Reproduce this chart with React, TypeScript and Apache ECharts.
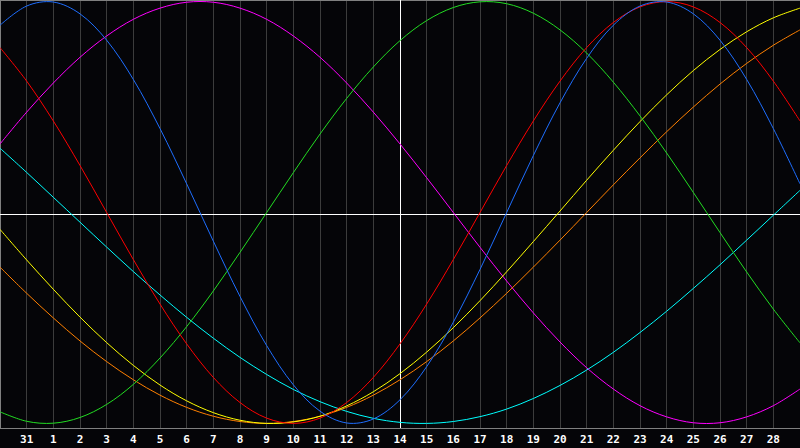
import React, { useEffect, useRef } from "react";
import * as echarts from "echarts";

// day labels along the bottom (index 0 and 30 sit on the plot edges, unlabeled)
const days = ["30", "31", "1", "2", "3", "4", "5", "6", "7", "8", "9", "10", "11", "12", "13", "14",
    "15", "16", "17", "18", "19", "20", "21", "22", "23", "24", "25", "26", "27", "28", "29"];
const today = "14";
const midLine = -0.007;

const blue = [0.888, 0.979, 0.998, 0.942, 0.817, 0.631, 0.398, 0.136, -0.136, -0.398, -0.631, -0.817, -0.942, -0.998, -0.979, -0.888,
    -0.731, -0.520, -0.270, 0.000, 0.270, 0.520, 0.731, 0.888, 0.979, 0.998, 0.942, 0.817, 0.631, 0.398, 0.136];
const red = [0.782, 0.623, 0.434, 0.223, 0, -0.223, -0.434, -0.623, -0.782, -0.901, -0.975, -1, -0.975, -0.901, -0.782, -0.623,
    -0.434, -0.223, 0, 0.223, 0.434, 0.623, 0.782, 0.901, 0.975, 1, 0.975, 0.901, 0.782, 0.623, 0.434];
const green = [-0.945, -0.990, -0.999, -0.972, -0.910, -0.815, -0.690, -0.541, -0.372, -0.189, 0, 0.189, 0.372, 0.541, 0.690, 0.815,
    0.910, 0.972, 0.999, 0.990, 0.945, 0.866, 0.756, 0.618, 0.458, 0.282, 0.095, -0.095, -0.282, -0.458, -0.618];
const magenta = [0.325, 0.476, 0.614, 0.736, 0.837, 0.916, 0.969, 0.997, 0.997, 0.969, 0.916, 0.837, 0.736, 0.614, 0.476, 0.325,
    0.165, 0, -0.165, -0.325, -0.476, -0.614, -0.736, -0.837, -0.916, -0.969, -0.997, -0.997, -0.969, -0.916, -0.837];
const yellow = [-0.080, -0.225, -0.364, -0.496, -0.617, -0.725, -0.818, -0.893, -0.949, -0.985, -1.000, -0.993, -0.966, -0.917, -0.850, -0.764,
    -0.662, -0.546, -0.418, -0.281, -0.138, 0.007, 0.153, 0.295, 0.431, 0.558, 0.673, 0.773, 0.857, 0.923, 0.969];
const orange = [-0.259, -0.383, -0.5, -0.609, -0.707, -0.793, -0.866, -0.924, -0.966, -0.991, -1, -0.991, -0.966, -0.924, -0.866, -0.793,
    -0.707, -0.609, -0.5, -0.383, -0.259, -0.131, 0, 0.131, 0.259, 0.383, 0.5, 0.609, 0.707, 0.793, 0.866];
const cyan = [0.305, 0.190, 0.072, -0.046, -0.164, -0.280, -0.391, -0.497, -0.596, -0.687, -0.768, -0.839, -0.897, -0.943, -0.976, -0.995,
    -1.000, -0.991, -0.968, -0.932, -0.882, -0.820, -0.747, -0.663, -0.569, -0.468, -0.360, -0.248, -0.131, -0.013, 0.105];

const curves = [
    { name: "cyan", data: cyan, color: "#00ffff" },
    { name: "magenta", data: magenta, color: "#ff00ff" },
    { name: "orange", data: orange, color: "#ff8000" },
    { name: "yellow", data: yellow, color: "#ffff00" },
    { name: "green", data: green, color: "#22dd22" },
    { name: "red", data: red, color: "#ff0000" },
    { name: "blue", data: blue, color: "#1e6eff" },
];

const App: React.FC = () => {
    const chartRef = useRef<HTMLDivElement>(null);

    useEffect(() => {
        document.body.style.margin = "0";
        document.body.style.background = "#050508";
        const chart = echarts.init(chartRef.current, null, { renderer: "svg" });

        const todayIdx = days.indexOf(today);

        // white crosshair: today's column and the zero line
        const crossSeries = {
            type: "custom",
            name: "today",
            data: [[todayIdx, midLine]],
            silent: true,
            renderItem: (params: any, api: any) => {
                const cs = params.coordSys;
                const p = api.coord([todayIdx, midLine]);
                const x = Math.round(p[0]) + 0.5;
                const y = Math.round(p[1]) + 0.5;
                return {
                    type: "group",
                    children: [
                        { type: "line", shape: { x1: x, y1: cs.y, x2: x, y2: cs.y + cs.height }, style: { stroke: "#ffffff", lineWidth: 1 } },
                        { type: "line", shape: { x1: cs.x, y1: y, x2: cs.x + cs.width, y2: y }, style: { stroke: "#ffffff", lineWidth: 1 } },
                    ],
                };
            },
        };

        const curveSeries = curves.map((c) => ({
            type: "custom",
            name: c.name,
            data: c.data.map((v, i) => [i, v]),
            silent: true,
            clip: true,
            renderItem: (params: any, api: any) => {
                if (params.dataIndex !== 0) return null;
                const points = c.data.map((v, i) => api.coord([i, v]));
                return {
                    type: "polyline",
                    shape: { points, smooth: 0.34 },
                    style: { stroke: c.color, lineWidth: 1, fill: null },
                };
            },
        }));

        const options = {
            animation: false,
            backgroundColor: "#050508",
            grid: {
                left: 0, right: 0, top: 0, bottom: 20,
                outerBoundsMode: "none",
                containLabel: false,
            },
            xAxis: [
                {
                    type: "category",
                    data: days,
                    boundaryGap: false,
                    axisLine: { show: true, onZero: false, lineStyle: { color: "#808080", width: 1 } },
                    axisTick: { show: false },
                    splitLine: { show: true, interval: 0, lineStyle: { color: "#3c3c3c", width: 1 } },
                    axisLabel: {
                        interval: 0,
                        margin: 6,
                        color: "#ffffff",
                        fontFamily: "DejaVu Sans Mono",
                        fontWeight: "bold",
                        fontSize: 11,
                        formatter: (val: string, idx: number) => (idx === 0 || idx === days.length - 1 ? "" : val),
                    },
                },
                {
                    type: "category",
                    data: days,
                    position: "top",
                    boundaryGap: false,
                    axisLine: { show: true, onZero: false, lineStyle: { color: "#808080", width: 1 } },
                    axisTick: { show: false },
                    axisLabel: { show: false },
                    splitLine: { show: false },
                },
            ],
            yAxis: {
                type: "value",
                min: -1.0218,
                max: 1.0076,
                axisLine: { show: true, onZero: false, lineStyle: { color: "#808080", width: 1 } },
                axisTick: { show: false },
                axisLabel: { show: false },
                splitLine: { show: false },
            },
            series: [crossSeries, ...curveSeries],
        };
        chart.setOption(options);
        return () => {
            chart.dispose();
        };
    }, []);

    return (
        <div ref={chartRef} style={{ position: "absolute", left: 0, top: 0, width: 800, height: 448 }}></div>
    );
};

export default App;
